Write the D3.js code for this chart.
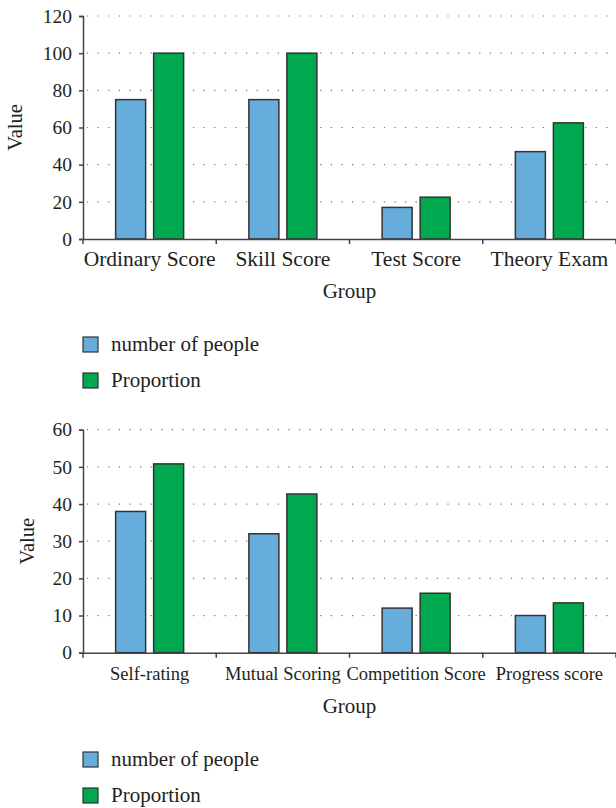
<!DOCTYPE html>
<html><head><meta charset="utf-8">
<script src="https://cdn.jsdelivr.net/npm/d3@7"></script>
<style>body{margin:0;background:#fff}svg{display:block}</style>
</head><body>
<script>
const categories1 = ["Ordinary Score","Skill Score","Test Score","Theory Exam"];
const people1 = [75, 75, 17, 47];
const proportion1 = [100, 100, 22.5, 62.5];
const yTicks1 = [0,20,40,60,80,100,120];

const categories2 = ["Self-rating","Mutual Scoring","Competition Score","Progress score"];
const people2 = [38, 32, 12, 10];
const proportion2 = [50.8, 42.7, 16, 13.4];
const yTicks2 = [0,10,20,30,40,50,60];

const seriesNames = ["number of people","Proportion"];
const colors = ["#66addb","#00a84f"];
const FONT = "'Liberation Serif', 'Times New Roman', serif";
const INK = "#231f20";

const svg = d3.select("body").append("svg").attr("width",616).attr("height",808);

function styleText(sel, size){
  sel.attr("font-family",FONT).style("font-family",FONT).style("font-size",size+"px").attr("fill",INK);
}

function chart(cfg){
  const g = svg.append("g");
  const x = d3.scaleBand().domain(cfg.cats).range([83,616]);
  const y = d3.scaleLinear().domain([0,cfg.max]).range([cfg.y0,cfg.y0-223]);
  // grid
  g.selectAll(".grid").data(cfg.ticks.filter(t=>t>0)).join("line")
    .attr("x1",87).attr("x2",616).attr("y1",d=>y(d)).attr("y2",d=>y(d))
    .attr("stroke","#777").attr("stroke-width",1.2).attr("stroke-dasharray","1.2,9.4");
  // bars
  const bw = 30, gap = 8;
  cfg.cats.forEach((c,i)=>{
    const cx = x(c)+x.bandwidth()/2;
    [cfg.a[i], cfg.b[i]].forEach((v,j)=>{
      const x0 = j===0 ? cx-gap/2-bw : cx+gap/2;
      g.append("rect").attr("x",x0).attr("y",y(v)).attr("width",bw).attr("height",y(0)-y(v))
        .attr("fill",colors[j]).attr("stroke","#333").attr("stroke-width",1.5);
    });
  });
  // y axis
  const ya = g.append("g").attr("transform","translate(83,0)")
    .call(d3.axisLeft(y).tickValues(cfg.ticks).tickSize(4).tickPadding(7));
  ya.attr("font-family",FONT);
  ya.select(".domain").attr("stroke","#444").attr("stroke-width",1.5);
  ya.selectAll(".tick line").attr("stroke","#444").attr("stroke-width",1.5);
  styleText(ya.selectAll(".tick text"), 19.5);
  // x axis
  const xa = g.append("g").attr("transform",`translate(0,${cfg.y0})`)
    .call(d3.axisBottom(x).tickSize(0).tickPadding(cfg.xpad));
  xa.attr("font-family",FONT);
  xa.select(".domain").attr("stroke","#444").attr("stroke-width",1.5);
  styleText(xa.selectAll(".tick text"), cfg.xfs);
  // separator ticks at band boundaries
  const bounds = cfg.cats.map(c=>x(c)).concat([x.range()[1]]);
  g.selectAll(".bt").data(bounds).join("line")
    .attr("x1",d=>d).attr("x2",d=>d).attr("y1",cfg.y0).attr("y2",cfg.y0+5)
    .attr("stroke","#444").attr("stroke-width",1.5);
  // axis titles
  styleText(g.append("text").attr("x",349.5).attr("y",cfg.groupY).attr("text-anchor","middle").text("Group"), 21);
  styleText(g.append("text").attr("transform",`translate(${cfg.valX},${cfg.y0-111.5}) rotate(-90)`)
    .attr("text-anchor","middle").text("Value"), 20.5);
  // legend
  seriesNames.forEach((n,j)=>{
    const ly = cfg.legY + j*36;
    g.append("rect").attr("x",83).attr("y",ly).attr("width",15).attr("height",15)
      .attr("fill",colors[j]).attr("stroke","#333").attr("stroke-width",1.2);
    styleText(g.append("text").attr("x",111).attr("y",ly+13.5).text(n), 21);
  });
}

chart({cats:categories1,a:people1,b:proportion1,max:120,ticks:yTicks1,y0:239,xpad:12,xfs:21.5,groupY:298,valX:22,legY:337});
chart({cats:categories2,a:people2,b:proportion2,max:60,ticks:yTicks2,y0:652.7,xpad:14,xfs:18.5,groupY:713,valX:34,legY:752});
</script>
</body></html>
